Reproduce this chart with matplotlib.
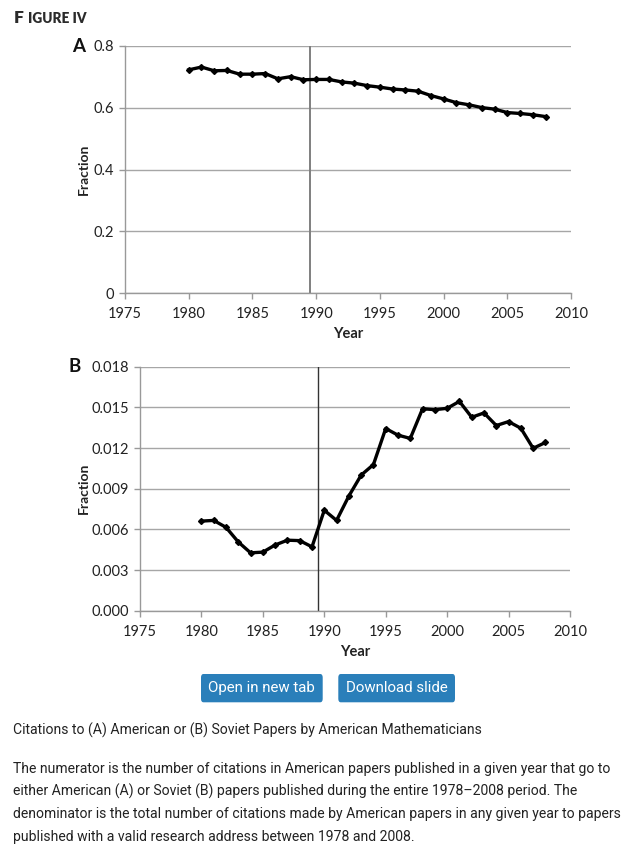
import matplotlib
matplotlib.use("Agg")
import matplotlib.pyplot as plt
from matplotlib.patches import FancyBboxPatch

W, H = 634, 857
years = list(range(1980, 2009))
frac_american = [0.722, 0.731, 0.719, 0.720, 0.708, 0.708, 0.710, 0.693, 0.700, 0.690,
                 0.691, 0.691, 0.683, 0.679, 0.671, 0.666, 0.660, 0.657, 0.653, 0.639,
                 0.628, 0.616, 0.609, 0.600, 0.595, 0.584, 0.581, 0.577, 0.571]
frac_soviet = [0.00661, 0.00666, 0.00615, 0.00507, 0.00427, 0.00432, 0.00485, 0.00520, 0.00517, 0.00471,
               0.00741, 0.00666, 0.00846, 0.01000, 0.01078, 0.01344, 0.01295, 0.01271, 0.01490, 0.01483,
               0.01493, 0.01544, 0.01427, 0.01459, 0.01366, 0.01395, 0.01346, 0.01198, 0.01241]
x_ticks = [1975, 1980, 1985, 1990, 1995, 2000, 2005, 2010]
ticks_a = [0, 0.2, 0.4, 0.6, 0.8]
ticklabels_a = ["0", "0.2", "0.4", "0.6", "0.8"]
ticks_b = [0.000, 0.003, 0.006, 0.009, 0.012, 0.015, 0.018]
ticklabels_b = ["0.000", "0.003", "0.006", "0.009", "0.012", "0.015", "0.018"]
break_year = 1989.5

tick_font = "Lato"
fig = plt.figure(figsize=(W / 100, H / 100), dpi=100)

def px(x, y):
    return x / W, 1 - y / H

def make_axes(left, top, right, bottom):
    l, t = px(left, top)
    r, b = px(right, bottom)
    return fig.add_axes([l, b, r - l, t - b])

def style(ax, yt, ytl, ylim, vcolor, vlw):
    ax.set_xlim(1975, 2010)
    ax.set_ylim(*ylim)
    ax.set_xticks(x_ticks)
    ax.set_xticklabels([str(v) for v in x_ticks], fontfamily=tick_font, fontsize=10.5)
    ax.set_yticks(yt)
    ax.set_yticklabels(ytl, fontfamily=tick_font, fontsize=10.5)
    for s in ["top", "right"]:
        ax.spines[s].set_visible(False)
    for s in ["left", "bottom"]:
        ax.spines[s].set_color("#999999")
        ax.spines[s].set_linewidth(1.0)
    ax.tick_params(axis="both", colors="#999999", labelcolor="#222222", length=4, width=1)
    ax.tick_params(axis="x", pad=6)
    ax.tick_params(axis="y", pad=4)
    ax.grid(axis="y", color="#a6a6a6", linewidth=1.0)
    ax.set_axisbelow(True)
    ax.axvline(break_year, color=vcolor, linewidth=vlw, zorder=2)
    ax.set_xlabel("Year", fontfamily=tick_font, fontweight="bold", fontsize=10.5, color="#222222")
    ax.set_ylabel("Fraction", fontfamily=tick_font, fontweight="bold", fontsize=10, color="#222222")

axA = make_axes(125, 45.7, 571, 293.3)
axA.plot(years, frac_american, color="black", linewidth=2.4, marker="D", markersize=3, zorder=3)
style(axA, ticks_a, ticklabels_a, (0, 0.8), "#7f7f7f", 1.4)
axA.xaxis.set_label_coords((348 - 125) / (571 - 125), -(334 - 293.3) / (293.3 - 45.7))
axA.yaxis.set_label_coords(-(125 - 84) / (571 - 125), 0.5)

axB = make_axes(140, 366.7, 570, 610.7)
axB.plot(years, frac_soviet, color="black", linewidth=2.4, marker="D", markersize=3, zorder=3)
style(axB, ticks_b, ticklabels_b, (0, 0.018), "#333333", 1.0)
axB.xaxis.set_label_coords((355 - 140) / (570 - 140), -(652 - 610.7) / (610.7 - 366.7))
axB.yaxis.set_label_coords(-(140 - 84) / (570 - 140), 0.5)
for ax in (axA, axB):
    ax.xaxis.label.set_va("center")
    ax.yaxis.label.set_va("center")

# Panel letters and figure title
fig.text(*px(72, 46), "A", fontfamily="Lato", fontweight="bold", fontsize=13.5, va="center", ha="left", color="#111111")
fig.text(*px(68, 366), "B", fontfamily="Lato", fontweight="bold", fontsize=13.5, va="center", ha="left", color="#111111")
fig.text(*px(14, 18), "F", fontfamily="Lato", fontweight="heavy", fontsize=12.5, va="center", ha="left", color="#2b2b2b")
fig.text(*px(28, 18.8), "IGURE IV", fontfamily="Lato", fontweight="heavy", fontsize=9.8, va="center", ha="left", color="#2b2b2b")

# Buttons
for (x0, x1, label) in [(201, 322.7, "Open in new tab"), (338.3, 455, "Download slide")]:
    l, t = px(x0, 674)
    r, b = px(x1, 702.3)
    fig.patches.append(FancyBboxPatch((l, b), r - l, t - b, boxstyle="round,pad=0,rounding_size=0.004",
                                      transform=fig.transFigure, facecolor="#2a7fba", edgecolor="none"))
    fig.text((l + r) / 2, (t + b) / 2, label, fontfamily="Roboto", fontsize=10.8, color="white",
             ha="center", va="center")

cap_font = "Roboto"
fig.text(*px(13, 730), "Citations to (A) American or (B) Soviet Papers by American Mathematicians",
         fontfamily=cap_font, fontsize=10.1, color="#222222", ha="left", va="center")
lines = [
    "The numerator is the number of citations in American papers published in a given year that go to",
    "either American (A) or Soviet (B) papers published during the entire 1978\u20132008 period. The",
    "denominator is the total number of citations made by American papers in any given year to papers",
    "published with a valid research address between 1978 and 2008.",
]
for i, ln in enumerate(lines):
    fig.text(*px(13, 769 + 22.5 * i), ln, fontfamily=cap_font, fontsize=10.1, color="#222222",
             ha="left", va="center")

fig.savefig("out.png", dpi=100)
